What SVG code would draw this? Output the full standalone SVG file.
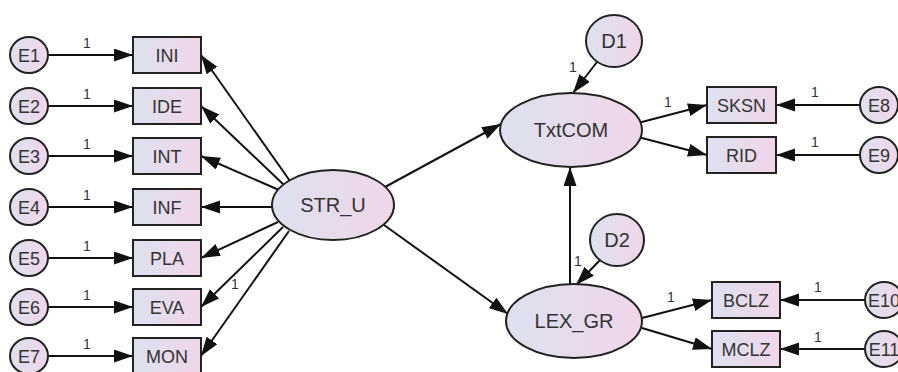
<svg xmlns="http://www.w3.org/2000/svg" width="898" height="372" viewBox="0 0 898 372">
<defs>
<linearGradient id="g" x1="0" y1="0" x2="1" y2="0">
<stop offset="0" stop-color="#dde1ef"/>
<stop offset="1" stop-color="#f0d6e9"/>
</linearGradient>
<marker id="ah" markerUnits="userSpaceOnUse" markerWidth="20" markerHeight="14" refX="19" refY="6.5" orient="auto">
<path d="M0,0 L19,6.5 L0,13 z" fill="#111"/>
</marker>
<style>
.n{fill:url(#g);stroke:#222;stroke-width:2}
.t{font-family:"Liberation Sans",Arial,sans-serif;fill:#333;text-anchor:middle}
.b{font-size:18px}
.e{font-size:20px}
.c{font-size:18px}
.one{font-family:"Liberation Sans",Arial,sans-serif;fill:#333;font-size:14px;text-anchor:middle}
.l{stroke:#111;stroke-width:2;fill:none;marker-end:url(#ah)}
</style>
</defs>
<rect width="898" height="372" fill="#fff"/>
<g id="connectors">
<line class="l" x1="48" y1="55" x2="133" y2="55"/>
<line class="l" x1="48" y1="106" x2="133" y2="106"/>
<line class="l" x1="48" y1="156" x2="133" y2="156"/>
<line class="l" x1="48" y1="207" x2="133" y2="207"/>
<line class="l" x1="48" y1="258" x2="133" y2="258"/>
<line class="l" x1="48" y1="307" x2="133" y2="307"/>
<line class="l" x1="48" y1="356" x2="133" y2="356"/>
<line class="l" x1="290" y1="181" x2="201" y2="55"/>
<line class="l" x1="284" y1="185" x2="201" y2="106"/>
<line class="l" x1="279" y1="190" x2="201" y2="156"/>
<line class="l" x1="272" y1="207" x2="201" y2="207"/>
<line class="l" x1="278" y1="222" x2="201" y2="258"/>
<line class="l" x1="283" y1="227" x2="201" y2="307"/>
<line class="l" x1="289" y1="231" x2="201" y2="356"/>
<line class="l" x1="385" y1="187" x2="501" y2="124"/>
<line class="l" x1="384" y1="225" x2="508" y2="314"/>
<line class="l" x1="570" y1="285" x2="570" y2="167"/>
<line class="l" x1="597" y1="62" x2="573" y2="93"/>
<line class="l" x1="600" y1="260" x2="576" y2="285"/>
<line class="l" x1="638" y1="123" x2="707" y2="105"/>
<line class="l" x1="638" y1="137" x2="707" y2="155"/>
<line class="l" x1="860" y1="105" x2="776" y2="105"/>
<line class="l" x1="860" y1="155" x2="776" y2="155"/>
<line class="l" x1="642" y1="318" x2="712" y2="300"/>
<line class="l" x1="642" y1="328" x2="712" y2="349"/>
<line class="l" x1="865" y1="300" x2="780" y2="300"/>
<line class="l" x1="865" y1="349" x2="780" y2="349"/>
<text class="one" x="87" y="48">1</text>
<text class="one" x="87" y="99">1</text>
<text class="one" x="87" y="149">1</text>
<text class="one" x="87" y="200">1</text>
<text class="one" x="87" y="251">1</text>
<text class="one" x="87" y="300">1</text>
<text class="one" x="87" y="349">1</text>
<text class="one" x="235" y="289">1</text>
<text class="one" x="573" y="72">1</text>
<text class="one" x="578" y="266">1</text>
<text class="one" x="668" y="107">1</text>
<text class="one" x="815" y="97">1</text>
<text class="one" x="815" y="147">1</text>
<text class="one" x="671" y="302">1</text>
<text class="one" x="818" y="292">1</text>
<text class="one" x="818" y="342">1</text>
</g>
<g id="E1"><ellipse class="n" cx="29" cy="55" rx="19" ry="18"/><text class="t c" x="29" y="61.5">E1</text></g>
<g id="E2"><ellipse class="n" cx="29" cy="106" rx="19" ry="18"/><text class="t c" x="29" y="112.5">E2</text></g>
<g id="E3"><ellipse class="n" cx="29" cy="156" rx="19" ry="18"/><text class="t c" x="29" y="162.5">E3</text></g>
<g id="E4"><ellipse class="n" cx="29" cy="207" rx="19" ry="18"/><text class="t c" x="29" y="213.5">E4</text></g>
<g id="E5"><ellipse class="n" cx="29" cy="258" rx="19" ry="18"/><text class="t c" x="29" y="264.5">E5</text></g>
<g id="E6"><ellipse class="n" cx="29" cy="307" rx="19" ry="18"/><text class="t c" x="29" y="313.5">E6</text></g>
<g id="E7"><ellipse class="n" cx="29" cy="356" rx="19" ry="18"/><text class="t c" x="29" y="362.5">E7</text></g>
<g id="INI"><rect class="n" x="133" y="37" width="68" height="36"/><text class="t b" x="167" y="61.5">INI</text></g>
<g id="IDE"><rect class="n" x="133" y="88" width="68" height="36"/><text class="t b" x="167" y="112.5">IDE</text></g>
<g id="INT"><rect class="n" x="133" y="138" width="68" height="36"/><text class="t b" x="167" y="162.5">INT</text></g>
<g id="INF"><rect class="n" x="133" y="189" width="68" height="36"/><text class="t b" x="167" y="213.5">INF</text></g>
<g id="PLA"><rect class="n" x="133" y="240" width="68" height="36"/><text class="t b" x="167" y="264.5">PLA</text></g>
<g id="EVA"><rect class="n" x="133" y="289" width="68" height="36"/><text class="t b" x="167" y="313.5">EVA</text></g>
<g id="MON"><rect class="n" x="133" y="338" width="68" height="36"/><text class="t b" x="167" y="362.5">MON</text></g>
<g id="STR_U"><ellipse class="n" cx="333" cy="205" rx="61" ry="35"/><text class="t e" x="333" y="212">STR_U</text></g>
<g id="TxtCOM"><ellipse class="n" cx="571" cy="130" rx="71" ry="37"/><text class="t e" x="571" y="137">TxtCOM</text></g>
<g id="LEX_GR"><ellipse class="n" cx="574" cy="321" rx="68" ry="37"/><text class="t e" x="574" y="328">LEX_GR</text></g>
<g id="D1"><ellipse class="n" cx="614" cy="41" rx="28" ry="26"/><text class="t e" x="614" y="48">D1</text></g>
<g id="D2"><ellipse class="n" cx="617" cy="240" rx="27" ry="26"/><text class="t e" x="617" y="247">D2</text></g>
<g id="SKSN"><rect class="n" x="707" y="87" width="69" height="36"/><text class="t b" x="741.5" y="111.5">SKSN</text></g>
<g id="RID"><rect class="n" x="707" y="137" width="69" height="36"/><text class="t b" x="741.5" y="161.5">RID</text></g>
<g id="BCLZ"><rect class="n" x="712" y="282" width="68" height="36"/><text class="t b" x="746" y="306.5">BCLZ</text></g>
<g id="MCLZ"><rect class="n" x="712" y="331" width="68" height="36"/><text class="t b" x="746" y="355.5">MCLZ</text></g>
<g id="E8"><ellipse class="n" cx="879" cy="105" rx="19" ry="18"/><text class="t c" x="879" y="111.5">E8</text></g>
<g id="E9"><ellipse class="n" cx="879" cy="155" rx="19" ry="18"/><text class="t c" x="879" y="161.5">E9</text></g>
<g id="E10"><ellipse class="n" cx="884" cy="300" rx="19" ry="18"/><text class="t c" x="884" y="306.5">E10</text></g>
<g id="E11"><ellipse class="n" cx="884" cy="349" rx="19" ry="18"/><text class="t c" x="884" y="355.5">E11</text></g>
</svg>
